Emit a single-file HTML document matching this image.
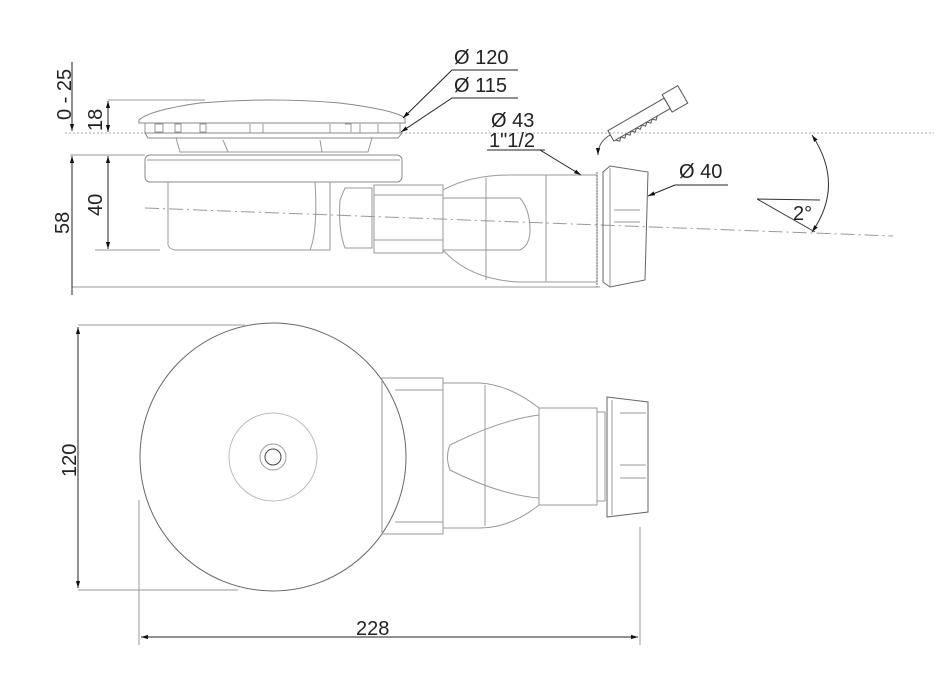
<!DOCTYPE html>
<html><head><meta charset="utf-8"><style>
html,body{margin:0;padding:0;background:#fff;}
svg{display:block;}
text{font-family:"Liberation Sans",sans-serif;fill:#222;}
</style></head><body>
<svg width="934" height="673" viewBox="0 0 934 673" xmlns="http://www.w3.org/2000/svg">
<defs>
<marker id="a" viewBox="0 0 10 10" refX="10" refY="5" markerWidth="7" markerHeight="7" orient="auto-start-reverse"><path d="M0,2 L10,5 L0,8 z" fill="#111"/></marker>
</defs>
<g fill="none" stroke="#999" stroke-width="1">
<line x1="65" y1="133" x2="934" y2="133" stroke="#aaa" stroke-dasharray="2,2"/>
<line x1="145" y1="208" x2="893" y2="236" stroke="#999" stroke-dasharray="14,4,2,4"/>
<line x1="108" y1="100" x2="205" y2="100"/>
<line x1="70" y1="155" x2="145" y2="155"/>
<line x1="95" y1="250" x2="160" y2="250"/>
<line x1="72" y1="287" x2="600" y2="287"/>
<path d="M139,120 Q150,110 200,103 Q270,97 340,103 Q395,110 405,118 L405,123 L139,123 Z" stroke="#888"/>
<path d="M145,123 L145,133 M400,123 L400,133" />
<path d="M155,124 h8 v8 h-8z M175,124 h6 v8 h-6z M200,124 h6 v8 h-6z M250,124 v9 M263,124 v9 M330,124 v9 M345,124 h6 v8 M360,124 v9 M378,124 v9"/>
<path d="M145,133 L402,133 L398,138 L148,138 Z" stroke="#888"/>
<path d="M176,138 L180,152 L368,152 L372,138"/>
<path d="M223,140 L228,152 M320,140 L322,152"/>
<rect x="145" y="155" width="257" height="27" rx="5" stroke="#888"/>
<line x1="147" y1="160" x2="400" y2="160"/>
<path d="M168,182 L168,245 Q170,250 176,250 L330,250 L330,182"/>
<path d="M315,182 Q318,230 310,250"/>
<path d="M345,188 L372,188 L372,248 L345,248 Q338,230 340,200 Z"/>
<rect x="374" y="185" width="69" height="68"/>
<line x1="374" y1="195" x2="443" y2="195"/><line x1="374" y1="240" x2="443" y2="240"/>
<path d="M443,190 Q470,175 510,175 L597,175 L597,282 L520,282 Q470,280 443,250"/>
<path d="M443,198 L520,198 Q530,210 530,230 Q530,245 520,250 L443,250"/>
<line x1="486" y1="178" x2="486" y2="280"/><line x1="546" y1="175" x2="546" y2="282"/>
<line x1="597" y1="172" x2="597" y2="287" stroke="#666" stroke-dasharray="2,1"/>
<path d="M603,172 L610,166 L648,172 L645,280 L610,287 L603,282 Z" stroke="#666"/>
<line x1="610" y1="168" x2="610" y2="286"/>
<line x1="614" y1="210" x2="640" y2="210"/><line x1="614" y1="222" x2="640" y2="222"/>
<path d="M812,135 Q845,185 812,232" stroke="#333" marker-start="url(#a)" marker-end="url(#a)"/>
<path d="M757,199 L820,200 M757,199 L815,232" stroke="#333"/>
<g stroke="#555" transform="rotate(-30 645 115)">
<rect x="605" y="110" width="65" height="12"/>
<path d="M607,122 l3,3 l3,-3 l3,3 l3,-3 l3,3 l3,-3 l3,3 l3,-3 l3,3 l3,-3 l3,3 l3,-3 l3,3 l3,-3 l3,3 l3,-3"/>
<rect x="670" y="106" width="18" height="20"/>
</g>
<path d="M610,135 Q598,142 598,155" stroke="#555" marker-end="url(#a)"/>
<line x1="78" y1="325" x2="245" y2="325"/>
<line x1="78" y1="590" x2="238" y2="590"/>
<line x1="139" y1="500" x2="139" y2="645"/>
<line x1="640" y1="527" x2="640" y2="645"/>
<ellipse cx="273" cy="457" rx="133" ry="134" stroke="#666"/>
<circle cx="273" cy="457" r="44" stroke="#bbb"/>
<circle cx="273" cy="457" r="13"/>
<circle cx="273" cy="457" r="8" stroke="#444"/>
<rect x="382" y="378" width="61" height="156"/>
<line x1="395" y1="390" x2="443" y2="390"/><line x1="395" y1="522" x2="443" y2="522"/>
<path d="M443,383 L480,383 Q510,385 539,408 L539,505 Q510,528 480,528 L443,528 Z"/>
<path d="M539,415 Q500,420 450,445 Q445,457 450,470 Q500,495 539,498"/>
<line x1="485" y1="385" x2="485" y2="526"/>
<rect x="539" y="408" width="58" height="97"/>
<rect x="597" y="412" width="8" height="89"/>
<path d="M607,397 L648,402 L648,512 L607,517 Z" stroke="#666"/>
<line x1="612" y1="400" x2="612" y2="515"/>
<line x1="620" y1="413" x2="646" y2="413"/><line x1="620" y1="465" x2="646" y2="465"/><line x1="620" y1="478" x2="646" y2="478"/>
</g>
<g stroke="#222" stroke-width="1" fill="none">
<line x1="72" y1="62" x2="72" y2="131" marker-end="url(#a)"/>
<line x1="108" y1="101" x2="108" y2="132" marker-start="url(#a)" marker-end="url(#a)"/>
<line x1="108" y1="156" x2="108" y2="249" marker-start="url(#a)" marker-end="url(#a)"/>
<line x1="72" y1="156" x2="72" y2="295" marker-start="url(#a)"/>
<line x1="78" y1="327" x2="78" y2="588" marker-start="url(#a)" marker-end="url(#a)"/>
<line x1="141" y1="637" x2="638" y2="637" marker-start="url(#a)" marker-end="url(#a)"/>
<path d="M518,70 L452,70 L403,118" marker-end="url(#a)"/>
<path d="M518,98 L452,98 L401,132" marker-end="url(#a)"/>
<path d="M545,150 L540,150 L581,175" marker-end="url(#a)"/>
<line x1="487" y1="150" x2="545" y2="150"/>
<path d="M728,185 L675,185 L648,196" marker-end="url(#a)"/>
</g>
<g font-size="20">
<text x="454" y="64">Ø 120</text>
<text x="454" y="92">Ø 115</text>
<text x="491" y="127">Ø 43</text>
<text x="489" y="147">1"1/2</text>
<text x="679" y="178">Ø 40</text>
<text x="793" y="220">2°</text>
<text x="356" y="635">228</text>
<text transform="translate(71,120) rotate(-90)">0 - 25</text>
<text transform="translate(102,131) rotate(-90)">18</text>
<text transform="translate(102,216) rotate(-90)">40</text>
<text transform="translate(69,234) rotate(-90)">58</text>
<text transform="translate(76,477) rotate(-90)">120</text>
</g>
</svg>
</body></html>
